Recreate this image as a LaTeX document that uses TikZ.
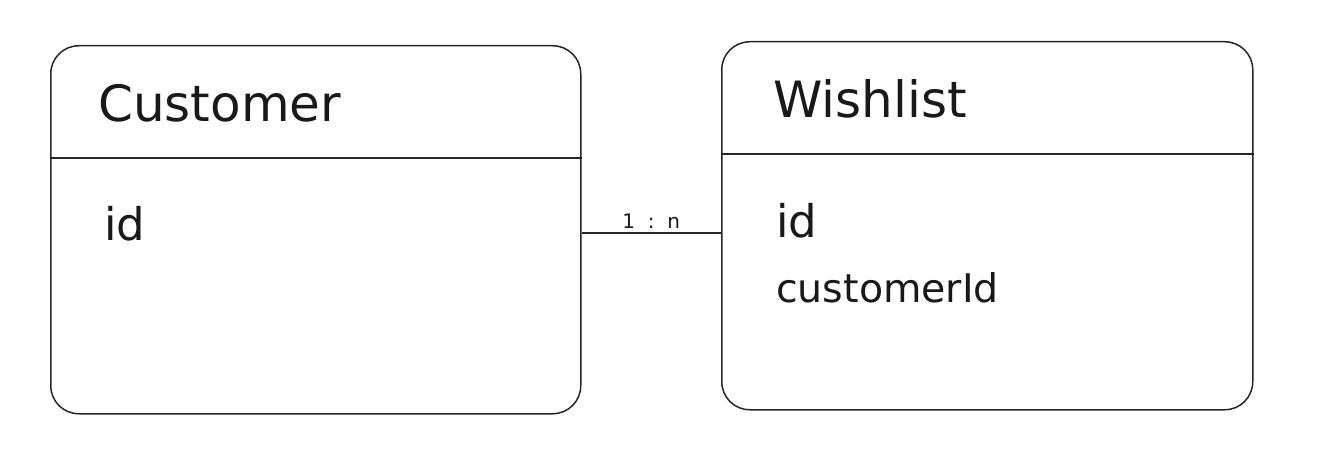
\documentclass[tikz,border=0pt]{standalone}
\usepackage{fontspec}
\setmainfont{DejaVu Sans}
\begin{document}
\begin{tikzpicture}[x=1pt,y=-1pt,
  entity/.style={draw=black!85, line width=1.5pt, rounded corners=28pt, anchor=north west, inner sep=0pt},
  divider/.style={draw=black!85, line width=1.4pt},
  link/.style={draw=black!85, line width=1.4pt},
  title/.style={anchor=base west, inner sep=0pt, font=\fontsize{50}{52}\selectfont, text=black!90},
  field/.style={anchor=base west, inner sep=0pt, font=\fontsize{45}{48}\selectfont, text=black!90},
  fieldsm/.style={anchor=base west, inner sep=0pt, font=\fontsize{39.5}{42}\selectfont, text=black!90},
  card/.style={anchor=base, inner sep=0pt, font=\fontsize{20}{22}\selectfont, text=black!90}
]
\useasboundingbox (0,0) rectangle (1321,452);
\node[entity, minimum width=530pt, minimum height=368pt] (cust) at (50,45) {};
\node[entity, minimum width=531pt, minimum height=368pt] (wish) at (721,41) {};
\coordinate (cdiv) at (0,158);
\coordinate (wdiv) at (0,154);
\draw[divider] (cust.west |- cdiv) -- (cust.east |- cdiv);
\draw[divider] (wish.west |- wdiv) -- (wish.east |- wdiv);
\node[title] (custtitle) at (98,121) {Customer};
\node[field] (custid) at (104,240) {id};
\node[title] (wishtitle) at (773,117) {Wishlist};
\node[field] (wishid) at (776,237) {id};
\node[fieldsm] (wishcid) at (776,302) {customerId};
\coordinate (lnk) at (650,233);
\draw[link] (cust.east |- lnk) -- (wish.west |- lnk) node[card, pos=0.5, yshift=5pt] (lbl) {1\ \ :\ \ n};
\end{tikzpicture}
\end{document}
